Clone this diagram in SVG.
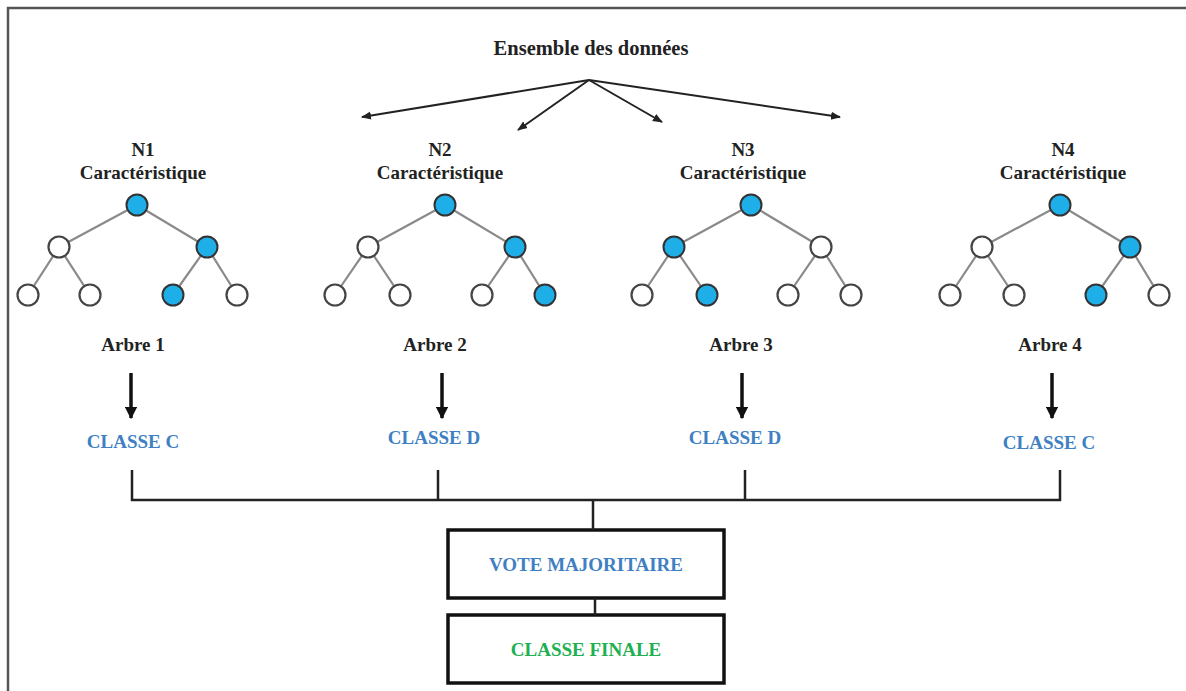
<svg xmlns="http://www.w3.org/2000/svg" width="1186" height="691" viewBox="0 0 1186 691">
<style>
text{font-weight:bold;text-anchor:middle}
.lbl{font-size:19px;fill:#222}
.blue{font-size:19px;fill:#3f7fc3}
.green{font-size:19px;fill:#20b050}
.edge{stroke:#8a8a8a;stroke-width:2.2;fill:none}
.on{fill:#1eaee8;stroke:#333;stroke-width:2}
.off{fill:#fff;stroke:#444;stroke-width:2.2}
.thin{stroke:#222;stroke-width:2;fill:none}
.down{stroke:#111;stroke-width:3.5;fill:none}
.bus{stroke:#222;stroke-width:2.5;fill:none}
.box{fill:#fff;stroke:#111;stroke-width:3.5}
</style>
<defs>
<marker id="sm" viewBox="0 0 10 10" refX="9" refY="5" markerWidth="5" markerHeight="5" orient="auto" markerUnits="strokeWidth"><path d="M0,1 L10,5 L0,9 z" fill="#222"/></marker>
<marker id="big" viewBox="0 0 10 10" refX="9" refY="5" markerWidth="3.6" markerHeight="3.6" orient="auto" markerUnits="strokeWidth"><path d="M0,0 L10,5 L0,10 z" fill="#111"/></marker>
</defs>
<rect width="1186" height="691" fill="#fff"/>
<path d="M8,691 V8 H1186" stroke="#555" stroke-width="2.5" fill="none"/>
<g font-family="Liberation Serif, DejaVu Serif, serif">
<g id="dataset"><text x="591" y="55" style="font-size:20.5px;fill:#222">Ensemble des données</text></g>

<g id="tree1">
<text class="lbl" x="143" y="156">N1</text>
<text class="lbl" x="143" y="179">Caractéristique</text>
<path class="edge" d="M137,205 L59,247 M137,205 L207,247 M59,247 L28,295 M59,247 L90,295 M207,247 L173,295 M207,247 L237,295"/>
<circle class="on" cx="137" cy="205" r="10.5"/>
<circle class="off" cx="59" cy="247" r="10.5"/><circle class="on" cx="207" cy="247" r="10.5"/>
<circle class="off" cx="28" cy="295" r="10.5"/><circle class="off" cx="90" cy="295" r="10.5"/>
<circle class="on" cx="173" cy="295" r="10.5"/><circle class="off" cx="237" cy="295" r="10.5"/>
<text class="lbl" x="133" y="351">Arbre 1</text>
</g>

<g id="tree2">
<text class="lbl" x="440" y="156">N2</text>
<text class="lbl" x="440" y="179">Caractéristique</text>
<path class="edge" d="M445,205 L368,247 M445,205 L515,247 M368,247 L335,295 M368,247 L400,295 M515,247 L482,295 M515,247 L545,295"/>
<circle class="on" cx="445" cy="205" r="10.5"/>
<circle class="off" cx="368" cy="247" r="10.5"/><circle class="on" cx="515" cy="247" r="10.5"/>
<circle class="off" cx="335" cy="295" r="10.5"/><circle class="off" cx="400" cy="295" r="10.5"/>
<circle class="off" cx="482" cy="295" r="10.5"/><circle class="on" cx="545" cy="295" r="10.5"/>
<text class="lbl" x="435" y="351">Arbre 2</text>
</g>

<g id="tree3">
<text class="lbl" x="743" y="156">N3</text>
<text class="lbl" x="743" y="179">Caractéristique</text>
<path class="edge" d="M751,205 L674,247 M751,205 L821,247 M674,247 L642,295 M674,247 L707,295 M821,247 L788,295 M821,247 L851,295"/>
<circle class="on" cx="751" cy="205" r="10.5"/>
<circle class="on" cx="674" cy="247" r="10.5"/><circle class="off" cx="821" cy="247" r="10.5"/>
<circle class="off" cx="642" cy="295" r="10.5"/><circle class="on" cx="707" cy="295" r="10.5"/>
<circle class="off" cx="788" cy="295" r="10.5"/><circle class="off" cx="851" cy="295" r="10.5"/>
<text class="lbl" x="741" y="351">Arbre 3</text>
</g>

<g id="tree4">
<text class="lbl" x="1063" y="156">N4</text>
<text class="lbl" x="1063" y="179">Caractéristique</text>
<path class="edge" d="M1060,205 L982,247 M1060,205 L1130,247 M982,247 L950,295 M982,247 L1014,295 M1130,247 L1096,295 M1130,247 L1159,295"/>
<circle class="on" cx="1060" cy="205" r="10.5"/>
<circle class="off" cx="982" cy="247" r="10.5"/><circle class="on" cx="1130" cy="247" r="10.5"/>
<circle class="off" cx="950" cy="295" r="10.5"/><circle class="off" cx="1014" cy="295" r="10.5"/>
<circle class="on" cx="1096" cy="295" r="10.5"/><circle class="off" cx="1159" cy="295" r="10.5"/>
<text class="lbl" x="1050" y="351">Arbre 4</text>
</g>

<g id="class1"><text class="blue" x="133" y="448">CLASSE C</text></g>
<g id="class2"><text class="blue" x="434" y="444">CLASSE D</text></g>
<g id="class3"><text class="blue" x="735" y="444">CLASSE D</text></g>
<g id="class4"><text class="blue" x="1049" y="449">CLASSE C</text></g>

<g id="vote"><rect class="box" x="448" y="530" width="276" height="68"/><text class="blue" x="586" y="571">VOTE MAJORITAIRE</text></g>
<g id="final"><rect class="box" x="448" y="615" width="276" height="68"/><text class="green" x="586" y="656">CLASSE FINALE</text></g>
</g>
<g id="connectors">
<path class="thin" marker-end="url(#sm)" d="M589,80 L362,117"/>
<path class="thin" marker-end="url(#sm)" d="M589,80 L518,130"/>
<path class="thin" marker-end="url(#sm)" d="M589,80 L662,122"/>
<path class="thin" marker-end="url(#sm)" d="M589,80 L840,117"/>
<path class="down" marker-end="url(#big)" d="M131,373 V418"/>
<path class="down" marker-end="url(#big)" d="M442,373 V418"/>
<path class="down" marker-end="url(#big)" d="M742,373 V418"/>
<path class="down" marker-end="url(#big)" d="M1052,373 V418"/>
<path class="bus" d="M132,470 V500 H1060 V470 M438,470 V500 M745,470 V500 M593,500 V530"/>
<path class="bus" d="M595,598 V615"/>
</g>
</svg>
